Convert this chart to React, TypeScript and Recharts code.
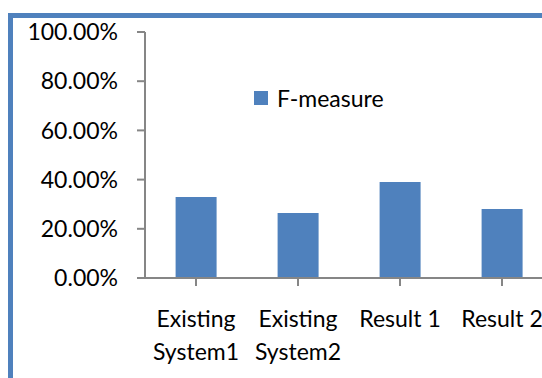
import React from 'react';
import { BarChart, Bar, XAxis, YAxis } from 'recharts';

const categories = ['Existing\nSystem1', 'Existing\nSystem2', 'Result 1', 'Result 2'];
const fMeasure = [0.329, 0.264, 0.39, 0.28];
const yTicks = [0, 0.2, 0.4, 0.6, 0.8, 1];
const seriesName = 'F-measure';

const data = categories.map((name, i) => ({ name, value: fMeasure[i] }));

const FONT = 'Lato, "Open Sans", sans-serif';
const BLUE = '#4f81bd';
const AXIS = '#868686';

const CategoryTick = ({ x, y, payload }: any) => {
    const lines = String(payload.value).split('\n');
    return (
        <text x={x} y={y} textAnchor="middle" fontFamily={FONT} fontSize={23} fill="#000">
            {lines.map((line, i) => (
                <tspan key={i} x={x} dy={i === 0 ? 39 : 33}>{line}</tspan>
            ))}
        </text>
    );
};

// key drawn over the plot, as in the original
const LegendBox = () => (
    <div style={{
        position: 'absolute', left: 254, top: 84, display: 'flex', alignItems: 'center',
        fontFamily: FONT, fontSize: 23, color: '#000', whiteSpace: 'nowrap'
    }}>
        <span style={{ width: 14, height: 14, background: BLUE, marginRight: 9, display: 'inline-block' }} />
        <span>{seriesName}</span>
    </div>
);

export default function App() {
    return (
        <div style={{ position: 'fixed', left: 0, top: 0, width: 542, height: 378, overflow: 'hidden', background: '#fff' }}>
            <div
                style={{
                    position: 'absolute', left: 8, top: 13, width: 600, height: 400,
                    borderTop: `5px solid ${BLUE}`, borderLeft: `5px solid ${BLUE}`
                }}
            />
            <div style={{ position: 'absolute', left: 0, top: 0 }}>
                <BarChart
                    width={560}
                    height={378}
                    data={data}
                    margin={{ top: 32, right: 7, bottom: 0, left: 0 }}
                    barCategoryGap="30%"
                >
                    <XAxis
                        dataKey="name"
                        height={100}
                        interval={0}
                        tickSize={8}
                        stroke={AXIS}
                        strokeWidth={2}
                        tick={<CategoryTick />}
                        tickLine={{ stroke: AXIS, strokeWidth: 2 }}
                    />
                    <YAxis
                        width={145}
                        domain={[0, 1]}
                        ticks={yTicks}
                        tickSize={8}
                        tickMargin={19}
                        stroke={AXIS}
                        strokeWidth={2}
                        tickLine={{ stroke: AXIS, strokeWidth: 2 }}
                        tickFormatter={(v: number) => (v * 100).toFixed(2) + '%'}
                        tick={{ fill: '#000', fontSize: 23, fontFamily: FONT }}
                    />
                    <Bar dataKey="value" name={seriesName} fill={BLUE} isAnimationActive={false} />
                </BarChart>
            </div>
            <LegendBox />
        </div>
    );
}
